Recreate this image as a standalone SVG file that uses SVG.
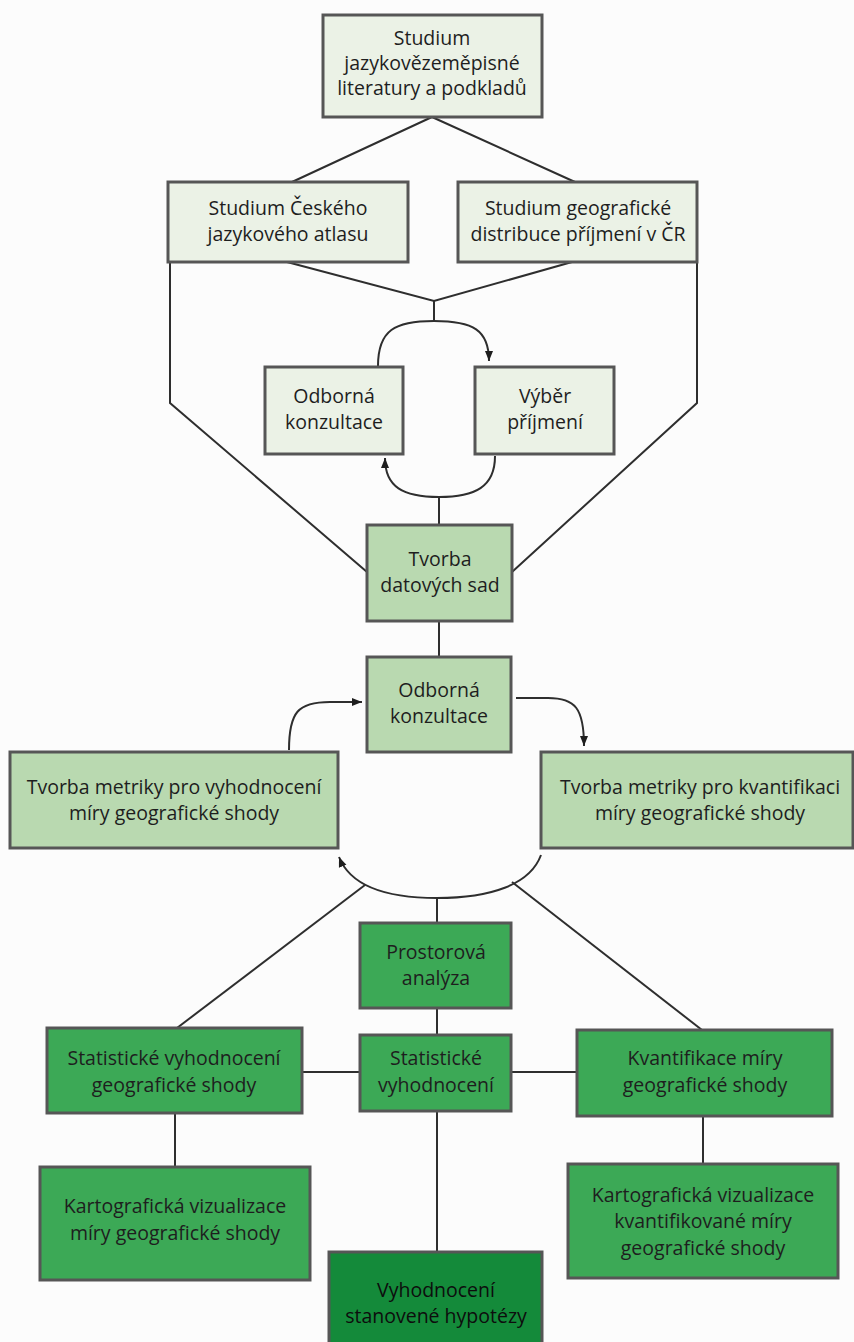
<svg xmlns="http://www.w3.org/2000/svg" width="854" height="1342" viewBox="0 0 854 1342">
<defs>
<style>
.box{stroke:#565656;stroke-width:3}
.l1{fill:#ebf2e6}
.l2{fill:#b9d9b0}
.l3{fill:#3ca956}
.l4{fill:#148a3a}
text{font-family:"Open Sans","Noto Sans",sans-serif;font-size:19.5px;fill:#1e1e1e;text-anchor:middle}
.dk{fill:#0d0d0d}
.con{fill:none;stroke:#2e2e2e;stroke-width:2}
</style>
<marker id="ah" viewBox="0 0 10 10" refX="10" refY="5" markerWidth="10" markerHeight="10" markerUnits="userSpaceOnUse" orient="auto">
<path d="M0,1 L10,5 L0,9 z" fill="#1e1e1e"/>
</marker>
</defs>
<rect width="854" height="1342" fill="#fcfcfc"/>
<g id="connectors" class="con">
<path d="M432,117 L292,182 M432,117 L575,182"/>
<path d="M287,262 L434,301 L572,262 M434,301 V321"/>
<path d="M170,262 V403 L367,572"/>
<path d="M697,262 V403 L512,572"/>
<path d="M378,366 C378,330 395,321 434,321 C473,321 489,330 489,361" marker-end="url(#ah)"/>
<path d="M495,456 C495,487 475,497 439,497 C403,497 385,487 385,458" marker-end="url(#ah)"/>
<path d="M439,497 V525"/>
<path d="M439,621 V657"/>
<path d="M289,750 C289,712 298,702 330,702 L362,702" marker-end="url(#ah)"/>
<path d="M516,698 L548,698 C575,698 584,708 584,746" marker-end="url(#ah)"/>
<path d="M541,855 C530,885 490,898 437,898 C385,898 350,885 339,857" marker-end="url(#ah)"/>
<path d="M437,898 V923 M437,1008 V1035"/>
<path d="M365,885 L177,1028"/>
<path d="M512,882 L702,1030"/>
<path d="M302,1072 H360 M511,1072 H577"/>
<path d="M175,1113 V1167 M703,1116 V1164 M437,1111 V1252"/>
</g>
<g id="n1"><rect class="box l1" x="323" y="15" width="219" height="102"/>
<text x="432" y="45">Studium</text><text x="432" y="70">jazykovězeměpisné</text><text x="432" y="95">literatury a podkladů</text></g>
<g id="n2"><rect class="box l1" x="168" y="182" width="240" height="80"/>
<text x="288" y="215">Studium Českého</text><text x="288" y="241">jazykového atlasu</text></g>
<g id="n3"><rect class="box l1" x="458" y="182" width="239" height="80"/>
<text x="578" y="215">Studium geografické</text><text x="578" y="241">distribuce příjmení v ČR</text></g>
<g id="n4"><rect class="box l1" x="265" y="367" width="138" height="87"/>
<text x="334" y="403">Odborná</text><text x="334" y="429">konzultace</text></g>
<g id="n5"><rect class="box l1" x="475" y="367" width="139" height="87"/>
<text x="545" y="403">Výběr</text><text x="545" y="429">příjmení</text></g>
<g id="n6"><rect class="box l2" x="367" y="525" width="145" height="96"/>
<text x="440" y="566">Tvorba</text><text x="440" y="592">datových sad</text></g>
<g id="n7"><rect class="box l2" x="367" y="657" width="144" height="95"/>
<text x="439" y="697">Odborná</text><text x="439" y="723">konzultace</text></g>
<g id="n8"><rect class="box l2" x="10" y="752" width="328" height="96"/>
<text x="174" y="794">Tvorba metriky pro vyhodnocení</text><text x="174" y="820">míry geografické shody</text></g>
<g id="n9"><rect class="box l2" x="541" y="752" width="312" height="96"/>
<text x="700" y="794">Tvorba metriky pro kvantifikaci</text><text x="700" y="820">míry geografické shody</text></g>
<g id="n10"><rect class="box l3" x="360" y="923" width="151" height="85"/>
<text x="436" y="959">Prostorová</text><text x="436" y="985">analýza</text></g>
<g id="n11"><rect class="box l3" x="47" y="1028" width="255" height="85"/>
<text x="174" y="1065">Statistické vyhodnocení</text><text x="174" y="1092">geografické shody</text></g>
<g id="n12"><rect class="box l3" x="360" y="1035" width="151" height="76"/>
<text x="436" y="1065">Statistické</text><text x="436" y="1092">vyhodnocení</text></g>
<g id="n13"><rect class="box l3" x="577" y="1030" width="255" height="86"/>
<text x="705" y="1065">Kvantifikace míry</text><text x="705" y="1092">geografické shody</text></g>
<g id="n14"><rect class="box l3" x="40" y="1167" width="270" height="113"/>
<text x="175" y="1213">Kartografická vizualizace</text><text x="175" y="1240">míry geografické shody</text></g>
<g id="n15"><rect class="box l3" x="568" y="1164" width="270" height="114"/>
<text x="703" y="1202">Kartografická vizualizace</text><text x="703" y="1228">kvantifikované míry</text><text x="703" y="1255">geografické shody</text></g>
<g id="n16"><rect class="box l4" x="329" y="1252" width="213" height="96"/>
<text class="dk" x="436" y="1297">Vyhodnocení</text><text class="dk" x="436" y="1323">stanovené hypotézy</text></g>
</svg>
